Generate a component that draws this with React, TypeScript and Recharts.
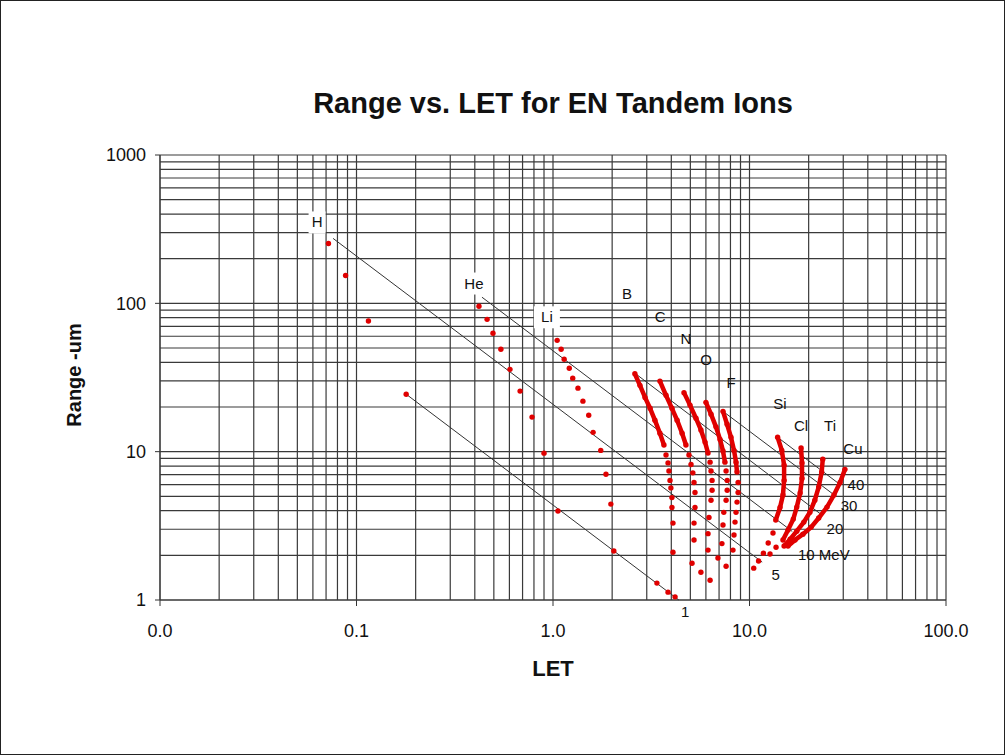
import React from 'react'
import { ScatterChart, Scatter, XAxis, YAxis } from 'recharts'

type Pair = [number, number]

// [LET, range um]
const H_POINTS: Pair[] = [[0.072, 253], [0.088, 154], [0.115, 76], [0.179, 24.4]]
const HE_POINTS: Pair[] = [
  [0.42, 95.5], [0.462, 78], [0.495, 62.8], [0.543, 49], [0.604, 35.9],
  [0.68, 25.6], [0.782, 17.1], [0.9, 9.77], [1.06, 3.98],
]
const LI_POINTS: Pair[] = [
  [1.05, 56.3], [1.1, 49], [1.14, 42], [1.21, 36.5], [1.26, 31.3], [1.34, 26.8], [1.42, 21.9],
  [1.52, 17.6], [1.6, 13.5], [1.75, 10.2], [1.86, 7.05], [1.97, 4.43], [2.04, 2.14],
]

const B_TRACK: Pair[] = [[2.61, 33.5], [2.77, 28.0], [2.94, 23.2], [3.12, 19.6], [3.3, 16.3], [3.5, 13.3], [3.67, 11.1]]
const B_TAIL: Pair[] = [[3.76, 9.5], [3.85, 8.4], [3.89, 7.4], [3.94, 6.4], [3.98, 5.7], [4.03, 4.9], [4.03, 4.2], [4.08, 3.3], [4.08, 2.1], [3.38, 1.3]]
const C_TRACK: Pair[] = [[3.5, 29.9], [3.76, 24.0], [4.03, 19.6], [4.28, 16.3], [4.54, 13.3], [4.75, 11.1]]
const C_TAIL: Pair[] = [[4.92, 9.5], [5.04, 8.2], [5.15, 7.2], [5.22, 6.2], [5.28, 5.3], [5.28, 4.2], [5.22, 3.3], [5.22, 2.54], [5.1, 1.77], [3.85, 1.13]]
const N_TRACK: Pair[] = [[4.64, 25.0], [4.98, 20.6], [5.34, 16.8], [5.66, 14.0], [5.94, 11.6], [6.15, 9.8]]
const N_TAIL: Pair[] = [[6.3, 8.5], [6.37, 7.4], [6.45, 6.4], [6.45, 5.5], [6.37, 4.7], [6.22, 3.6], [6.15, 2.8], [6.15, 2.17], [5.66, 1.54], [4.18, 1.05]]
const O_TRACK: Pair[] = [[6.0, 21.5], [6.37, 17.9], [6.75, 14.7], [7.08, 12.1], [7.33, 10.1], [7.5, 8.5]]
const O_TAIL: Pair[] = [[7.6, 7.4], [7.7, 6.4], [7.7, 5.5], [7.6, 4.7], [7.4, 3.9], [7.33, 3.2], [7.24, 2.4], [6.91, 1.92], [6.3, 1.36]]
const F_TRACK: Pair[] = [[7.33, 18.7], [7.69, 15.3], [8.05, 12.5], [8.34, 10.2], [8.54, 8.5], [8.64, 7.3]]
const F_TAIL: Pair[] = [[8.75, 6.2], [8.75, 5.3], [8.64, 4.57], [8.54, 3.9], [8.44, 3.35], [8.34, 2.74], [8.24, 2.17], [7.6, 1.69]]
const SI_TRACK: Pair[] = [[13.9, 12.5], [14.6, 10.2], [15.0, 8.1], [15.0, 6.4], [14.8, 5.1], [14.3, 4.2], [13.6, 3.46]]
const SI_TAIL: Pair[] = [[13.17, 2.83], [12.45, 2.42], [11.77, 2.07], [11.12, 1.83], [10.51, 1.64]]
const CL_TRACK: Pair[] = [[18.3, 10.6], [18.5, 8.4], [18.5, 6.6], [18.1, 5.26], [17.4, 4.23], [16.7, 3.51], [15.7, 2.96], [14.8, 2.54]]
const CL_TAIL: Pair[] = [[13.65, 2.27], [12.72, 2.04]]
const TI_TRACK: Pair[] = [[23.6, 8.9], [23.3, 7.3], [22.5, 5.78], [21.5, 4.71], [20.3, 3.91], [18.9, 3.35], [17.4, 2.91], [16.1, 2.57], [15.0, 2.31]]
const CU_TRACK: Pair[] = [[30.6, 7.6], [28.9, 6.2], [26.9, 5.1], [24.8, 4.23], [22.5, 3.57], [20.6, 3.1], [18.7, 2.78], [17.05, 2.54], [15.7, 2.31]]

// constant energy lines (MeV)
const E1_LINE: Pair[] = [[0.179, 24.4], [4.37, 1.0]]
const E5_LINE: Pair[] = [[0.076, 274], [11.6, 1.8]]
const E10_LINE: Pair[] = [[0.435, 110], [16.5, 2.9]]
const E20_LINE: Pair[] = [[2.61, 33.8], [23, 3.8]]
const E30_LINE: Pair[] = [[7.33, 18.7], [26.5, 5.2]]
const E40_LINE: Pair[] = [[13.9, 12.5], [28.9, 6.0]]

const ION_LABELS = [
  { name: 'H', let: 0.063, range: 351 },
  { name: 'He', let: 0.396, range: 136 },
  { name: 'Li', let: 0.931, range: 80.5 },
  { name: 'B', let: 2.38, range: 115 },
  { name: 'C', let: 3.51, range: 80.5 },
  { name: 'N', let: 4.75, range: 57.2 },
  { name: 'O', let: 6.01, range: 41.3 },
  { name: 'F', let: 8.06, range: 28.9 },
  { name: 'Si', let: 14.3, range: 20.9 },
  { name: 'Cl', let: 18.3, range: 14.8 },
  { name: 'Ti', let: 25.7, range: 14.8 },
  { name: 'Cu', let: 33.6, range: 10.4 },
]
const ENERGY_LABELS = [
  { name: '40', let: 34.8, range: 5.95 },
  { name: '30', let: 32.1, range: 4.3 },
  { name: '20', let: 27.2, range: 3.01 },
  { name: '10 MeV', let: 23.9, range: 2.01 },
  { name: '5', let: 13.6, range: 1.47 },
]
const AXIS_ENERGY_LABELS = [{ name: '1', let: 4.7, range: 1 }]

const X_TICKS = [0.01, 0.1, 1, 10, 100]
const Y_TICKS = [1, 10, 100, 1000]

const BOXED = ['H', 'He', 'Li']
const RED = '#e00000'
const GRID = '#3a3a3a'
const FONT = '"Liberation Sans", Arial, sans-serif'

const rows = (pairs: Pair[]) => pairs.map(([x, y]) => ({ let: x, range: y }))

const gridValues = (decades: number[], last: number) => {
  const out: number[] = []
  decades.forEach((d) => {
    for (let k = 1; k <= 9; k++) out.push(k * d)
  })
  out.push(last)
  return out
}
const X_GRID = gridValues([0.01, 0.1, 1, 10], 100)
const Y_GRID = gridValues([1, 10, 100], 1000)

const Dot = (p: any) => <circle cx={p.cx} cy={p.cy} r={2.7} fill={RED} />
const NoDot = () => <g />

const Tag = (p: any) => {
  const { cx, cy, payload } = p
  const name: string = payload.name
  const w = name.length * 9 + 8
  return (
    <g>
      {BOXED.includes(name) && <rect x={cx - w / 2} y={cy - 11} width={w} height={22} fill="#fff" />}
      <text x={cx} y={cy} dy={(p.shift || 0) + 5} textAnchor="middle" fontSize={15} fontFamily={FONT} fill="#111">
        {name}
      </text>
    </g>
  )
}

const tracks = [B_TRACK, C_TRACK, N_TRACK, O_TRACK, F_TRACK, SI_TRACK, CL_TRACK, TI_TRACK, CU_TRACK]
const dotSets = [H_POINTS, HE_POINTS, LI_POINTS, B_TAIL, C_TAIL, N_TAIL, O_TAIL, F_TAIL, SI_TAIL, CL_TAIL]
const energyLines = [E1_LINE, E5_LINE, E10_LINE, E20_LINE, E30_LINE, E40_LINE]

export default function App() {
  return (
    <div style={{ position: 'absolute', left: 0, top: 0, width: 1005, height: 755, background: '#fff', fontFamily: FONT }}>
      <ScatterChart width={1005} height={755} margin={{ top: 155, right: 59, bottom: 115, left: 100 }}>
        <XAxis
          type="number"
          dataKey="let"
          scale="log"
          domain={[0.01, 100]}
          ticks={X_TICKS}
          tickFormatter={(v: number) => v.toFixed(1)}
          tick={{ fontSize: 18, fill: '#111', fontFamily: FONT }}
          tickSize={6}
          tickMargin={18}
          stroke="#333"
          height={40}
        />
        <YAxis
          type="number"
          dataKey="range"
          scale="log"
          domain={[1, 1000]}
          ticks={Y_TICKS}
          tick={{ fontSize: 18, fill: '#111', fontFamily: FONT }}
          tickSize={5}
          tickMargin={9}
          stroke="#333"
          width={60}
        />
        {X_GRID.map((v) => (
          <Scatter
            key={'gx' + v}
            data={[{ let: v, range: 1 }, { let: v, range: 1000 }]}
            line={{ stroke: GRID, strokeWidth: 1.2 }}
            shape={NoDot}
            isAnimationActive={false}
          />
        ))}
        {Y_GRID.map((v) => (
          <Scatter
            key={'gy' + v}
            data={[{ let: 0.01, range: v }, { let: 100, range: v }]}
            line={{ stroke: GRID, strokeWidth: 1.2 }}
            shape={NoDot}
            isAnimationActive={false}
          />
        ))}
        {energyLines.map((ln, i) => (
          <Scatter key={'e' + i} data={rows(ln)} line={{ stroke: '#333', strokeWidth: 1 }} shape={NoDot} isAnimationActive={false} />
        ))}
        {tracks.map((t, i) => (
          <Scatter key={'t' + i} data={rows(t)} fill={RED} line={{ stroke: RED, strokeWidth: 4.5 }} shape={Dot} isAnimationActive={false} />
        ))}
        {dotSets.map((d, i) => (
          <Scatter key={'d' + i} data={rows(d)} fill={RED} shape={Dot} isAnimationActive={false} />
        ))}
        <Scatter data={ION_LABELS} shape={Tag} isAnimationActive={false} />
        <Scatter data={ENERGY_LABELS} shape={Tag} isAnimationActive={false} />
        <Scatter data={AXIS_ENERGY_LABELS} shape={(p: any) => <Tag {...p} shift={12} />} isAnimationActive={false} />
      </ScatterChart>

      <div style={{ position: 'absolute', left: 253, top: 86, width: 600, textAlign: 'center', fontSize: 29, lineHeight: '34px', fontWeight: 'bold', color: '#111' }}>
        Range vs. LET for EN Tandem Ions
      </div>
      <div style={{ position: 'absolute', left: 453, top: 655, width: 200, textAlign: 'center', fontSize: 22, lineHeight: '28px', fontWeight: 'bold', color: '#111' }}>
        LET
      </div>
      <div
        style={{
          position: 'absolute', left: -26, top: 361, width: 200, textAlign: 'center', fontSize: 20, lineHeight: '28px',
          fontWeight: 'bold', color: '#111', transform: 'rotate(-90deg)',
        }}
      >
        Range -um
      </div>
      <div style={{ position: 'absolute', left: 0, top: 0, width: 1005, height: 755, boxSizing: 'border-box', border: '1px solid #222', pointerEvents: 'none' }} />
    </div>
  )
}
